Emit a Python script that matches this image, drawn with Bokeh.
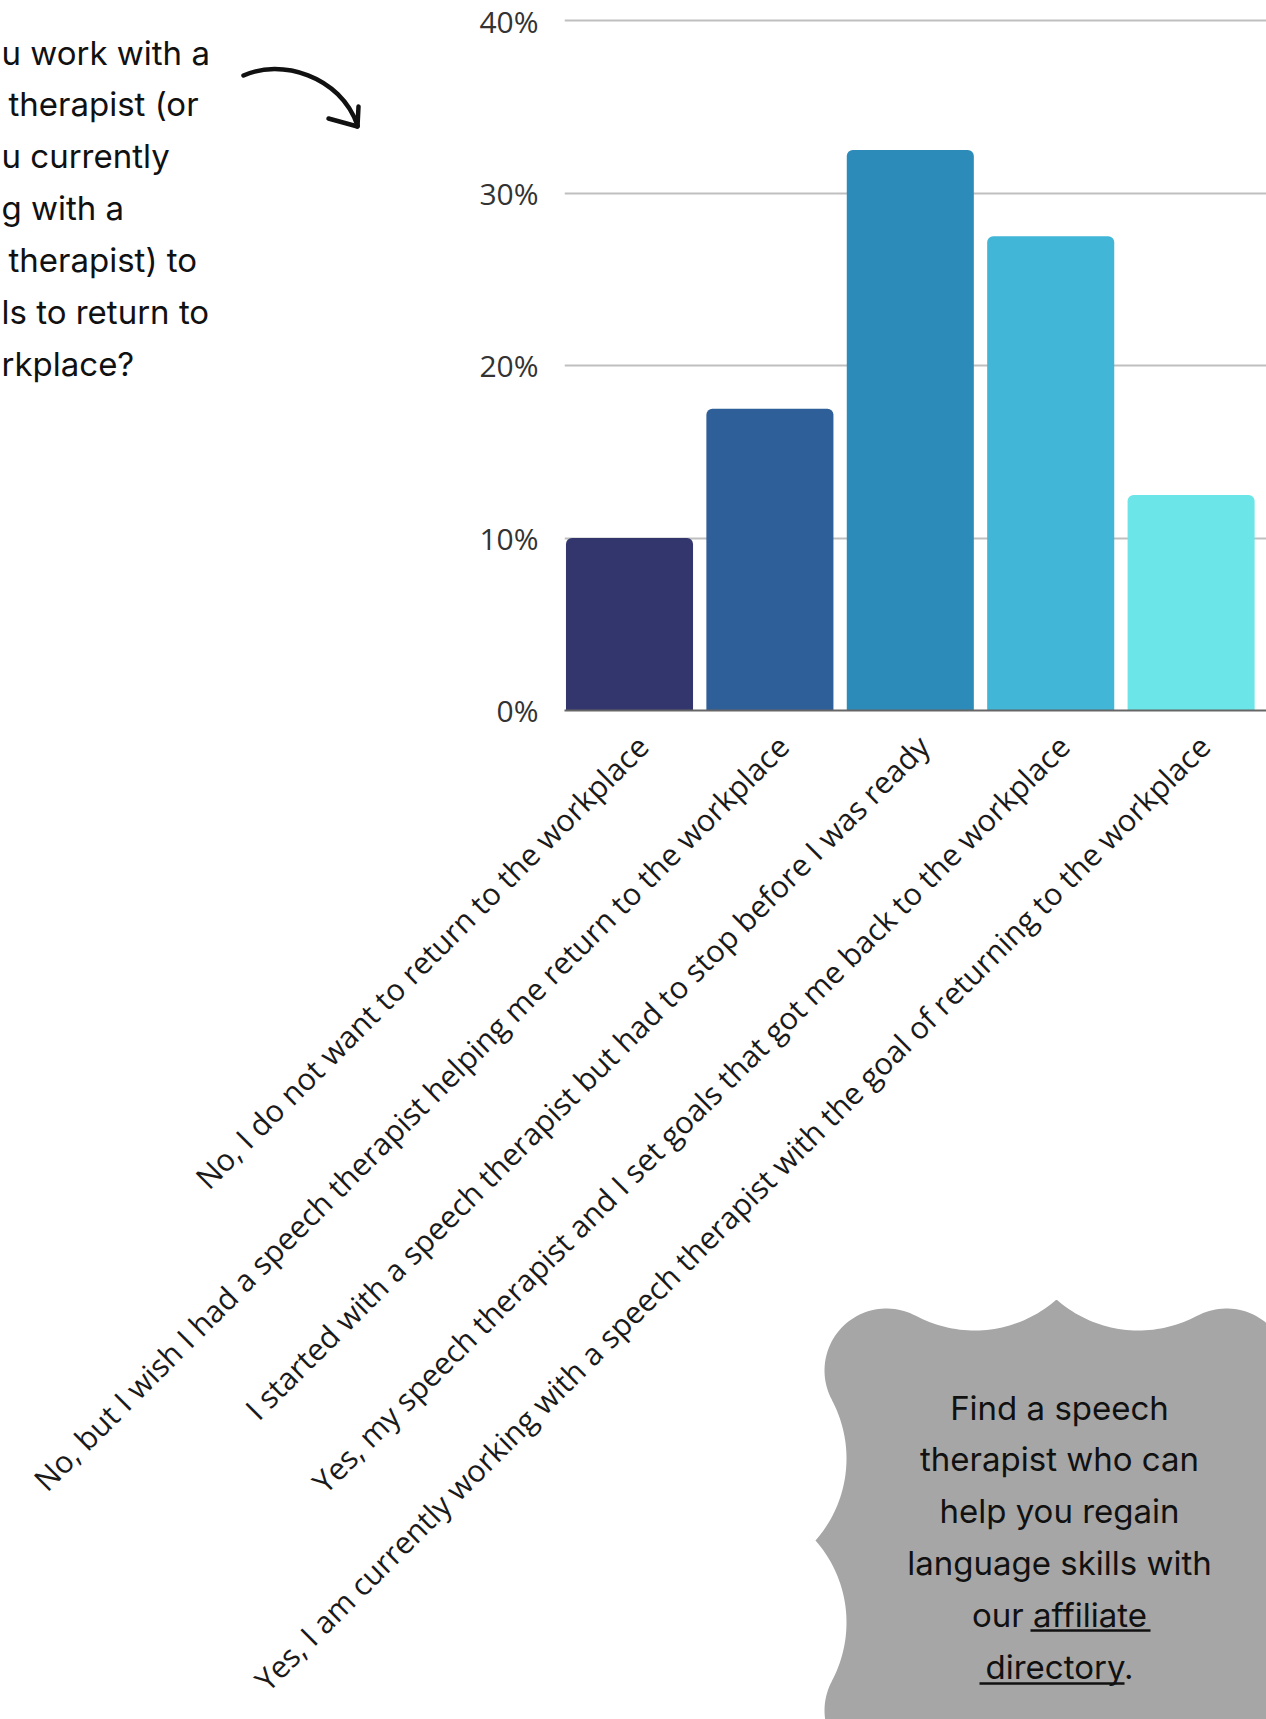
import math
import numpy as np
from bokeh.plotting import figure
from bokeh.models import Range1d, FixedTicker, PrintfTickFormatter, ColumnDataSource
from bokeh.transform import dodge
from bokeh.core.properties import value
from bokeh.embed import file_html
from bokeh.resources import INLINE

# ---------------- data ----------------
categories = [
    "No, I do not want to return to the workplace",
    "No, but I wish I had a speech therapist helping me return to the workplace",
    "I started with a speech therapist but had to stop before I was ready",
    "Yes, my speech therapist and I set goals that got me back to the workplace",
    "Yes, I am currently working with a speech therapist with the goal of returning to the workplace",
]
shares = [10.0, 17.5, 32.5, 27.5, 12.5]
bar_colors = ["#32366D", "#2F5F98", "#2D8BB9", "#41B6D6", "#6CE5E8"]
y_ticks = [0, 10, 20, 30, 40]

# the question text is cut by the left edge of the page in the original
question_lines = [
    "u work with a",
    "therapist (or",
    "u currently",
    "g with a",
    "therapist) to",
    "ls to return to",
    "rkplace?",
]
question_line_starts = [1, 8, 1, 1, 8, 1, 1]
callout_lines = [
    "Find a speech",
    "therapist who can",
    "help you regain",
    "language skills with",
    "our affiliate",
    "directory.",
]

# ---------------- chart ----------------
W, H = 1266, 1719
L, T, B = 564, 13, 1009
PX_PER_PCT = 17.25
Y_TOP = 40 + (20 - T) / PX_PER_PCT

positions = list(range(len(categories)))

p = figure(width=W, height=H,
           x_range=Range1d(-0.555, len(categories) - 0.555),
           y_range=Range1d(0, Y_TOP),
           output_backend="svg", toolbar_location=None,
           min_border_left=L, min_border_right=0,
           min_border_top=T, min_border_bottom=B)
p.outline_line_color = None
p.background_fill_color = "white"
p.border_fill_color = "white"

src = ColumnDataSource(dict(pos=positions, share=shares, color=bar_colors))
p.vbar(x=dodge("pos", -0.092), top="share", width=0.905,
       source=src, fill_color="color", line_color=None,
       border_radius=(6, 6, 0, 0))

p.yaxis.ticker = FixedTicker(ticks=y_ticks)
p.yaxis.formatter = PrintfTickFormatter(format="%d%%")
p.yaxis.axis_line_color = None
p.yaxis.major_tick_line_color = None
p.yaxis.minor_tick_line_color = None
p.yaxis.major_label_text_font = "Open Sans"
p.yaxis.major_label_text_font_size = "30px"
p.yaxis.major_label_text_color = "#333333"
p.yaxis.major_label_standoff = 20

p.ygrid.grid_line_color = "#BFBFBF"
p.ygrid.grid_line_width = 2
p.xgrid.grid_line_color = None

p.xaxis.ticker = FixedTicker(ticks=positions)
p.xaxis.major_label_overrides = {i: c for i, c in zip(positions, categories)}
p.xaxis.major_label_orientation = math.pi / 4
p.xaxis.major_label_text_font = "Open Sans"
p.xaxis.major_label_text_font_size = "30.5px"
p.xaxis.major_label_text_color = "#1A1A1A"
p.xaxis.major_label_standoff = 24
p.xaxis.axis_line_color = "#666666"
p.xaxis.axis_line_width = 2
p.xaxis.major_tick_line_color = None
p.xaxis.minor_tick_line_color = None

# ---------------- decoration layer (page pixel coordinates) ----------------
d = figure(width=W, height=H, x_range=Range1d(0, W), y_range=Range1d(H, 0),
           output_backend="svg", toolbar_location=None,
           x_axis_location=None, y_axis_location=None, min_border=0,
           margin=(-H, 0, 0, 0))
d.outline_line_color = None
d.background_fill_color = None
d.border_fill_color = None
d.grid.visible = False


def scallop(cx, cy):
    peak, k, R = 241.0, 170.0, 62.0
    ca, cc, r = 82.0, 334.0, 124.0
    a0 = math.atan2(peak - cc, 0 - ca)
    tx, ty = k + R * (ca - k) / (r + R), k + R * (cc - k) / (r + R)
    a1 = math.atan2(ty - cc, tx - ca)
    t = np.linspace(a0, a1, 40)
    top = np.stack([ca + r * np.cos(t), cc + r * np.sin(t)], axis=1)
    b0 = math.atan2(ty - k, tx - k)
    b1 = math.pi / 2 - b0
    t = np.linspace(b0, b1, 50)
    corner = np.stack([k + R * np.cos(t), k + R * np.sin(t)], axis=1)
    right = top[::-1][:, ::-1]
    q1 = np.vstack([top, corner, right])
    q4 = (q1 * [1, -1])[::-1]
    q3 = q1 * [-1, -1]
    q2 = (q1 * [-1, 1])[::-1]
    pts = np.vstack([q1, q4, q3, q2])
    return list(cx + pts[:, 0]), list(cy - pts[:, 1])


sx, sy = scallop(1056, 1540)
d.patch(sx, sy, fill_color="#A6A6A6", line_color=None)

# curved arrow
d.bezier(x0=[243], y0=[75], x1=[357], y1=[125], cx0=[280], cy0=[58], cx1=[340], cy1=[75],
         line_color="#111111", line_width=4.5, line_cap="round")
d.segment(x0=[357, 357], y0=[126, 126], x1=[328, 358], y1=[118, 106],
          line_color="#111111", line_width=4.5, line_cap="round")

# question text
d.text(x=question_line_starts, y=[52 + 51.9 * i for i in range(len(question_lines))],
       text=question_lines, text_font=value("Inter"), text_font_size=value("33px"),
       text_color="#111111", text_align="left", text_baseline="middle")

# callout text
d.text(x=[1059] * len(callout_lines), y=[1407 + 51.9 * i for i in range(len(callout_lines))],
       text=callout_lines, text_font=value("Inter"), text_font_size=value("33px"),
       text_color="#111111", text_align="center", text_baseline="middle")

# underlines of the link words
d.segment(x0=[1030, 979], y0=[1630, 1683], x1=[1150, 1124], y1=[1630, 1683],
          line_color="#111111", line_width=2.4)

open("out.html", "w").write(file_html([p, d], INLINE))
